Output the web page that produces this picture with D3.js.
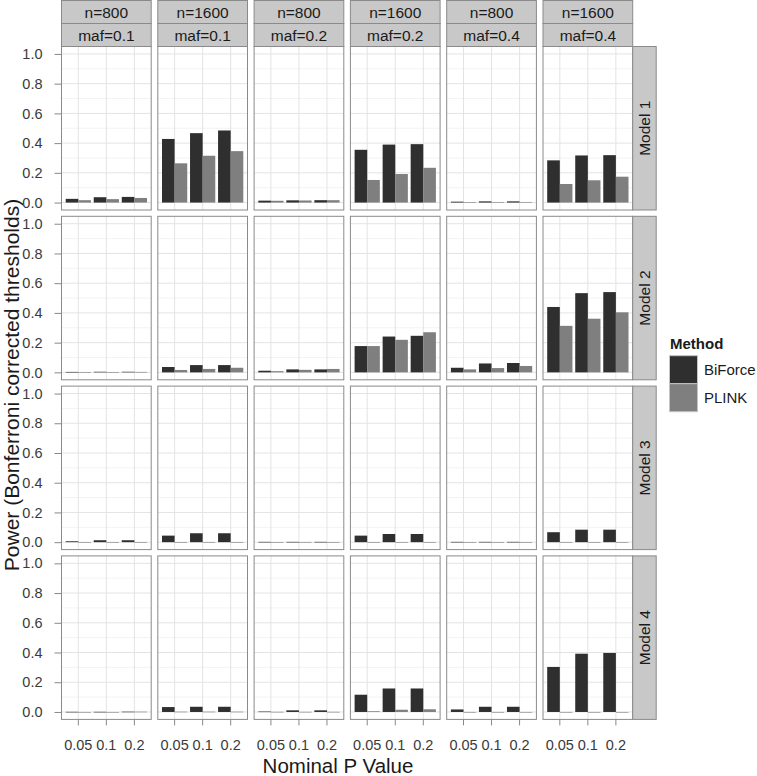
<!DOCTYPE html>
<html><head><meta charset="utf-8">
<script src="https://cdn.jsdelivr.net/npm/d3@7"></script>
<style>body{margin:0;background:#fff}svg{display:block;font-family:"Liberation Sans",Arial,sans-serif}</style>
</head><body><svg id="chart" width="757" height="776"></svg>
<script>
const pValues = ["0.05", "0.1", "0.2"];
const sampleSizes = ["n=800", "n=1600", "n=800", "n=1600", "n=800", "n=1600"];
const mafLabels = ["maf=0.1", "maf=0.1", "maf=0.2", "maf=0.2", "maf=0.4", "maf=0.4"];
const models = ["Model 1", "Model 2", "Model 3", "Model 4"];
const methods = ["BiForce", "PLINK"];
const yTicks = [0, 0.2, 0.4, 0.6, 0.8, 1.0];
const yMinor = [0.1, 0.3, 0.5, 0.7, 0.9];

// each array: 6 panels (columns) x 3 nominal p values
const biforceModel1 = [[0.025,0.036,0.038],[0.428,0.467,0.485],[0.013,0.015,0.016],[0.355,0.390,0.393],[0.006,0.008,0.008],[0.284,0.317,0.319]];
const plinkModel1   = [[0.016,0.023,0.031],[0.264,0.315,0.346],[0.012,0.014,0.016],[0.152,0.192,0.234],[0.003,0.004,0.004],[0.125,0.150,0.174]];
const biforceModel2 = [[0.003,0.004,0.004],[0.036,0.049,0.049],[0.011,0.020,0.020],[0.177,0.241,0.246],[0.031,0.060,0.063],[0.440,0.533,0.540]];
const plinkModel2   = [[0.002,0.002,0.003],[0.016,0.023,0.031],[0.008,0.017,0.023],[0.177,0.219,0.270],[0.020,0.029,0.043],[0.313,0.361,0.404]];
const biforceModel3 = [[0.006,0.013,0.013],[0.044,0.060,0.060],[0.002,0.002,0.002],[0.044,0.055,0.055],[0.002,0.002,0.002],[0.067,0.084,0.084]];
const plinkModel3   = [[0,0,0],[0.001,0.001,0.001],[0,0,0],[0,0,0],[0,0,0],[0,0,0]];
const biforceModel4 = [[0.001,0.001,0.002],[0.033,0.035,0.035],[0.003,0.011,0.011],[0.116,0.158,0.158],[0.017,0.035,0.035],[0.303,0.392,0.397]];
const plinkModel4   = [[0,0,0.002],[0.002,0.002,0.002],[0.001,0.001,0.001],[0.005,0.015,0.018],[0,0,0],[0,0,0]];

const biforceByModel = [biforceModel1, biforceModel2, biforceModel3, biforceModel4];
const plinkByModel = [plinkModel1, plinkModel2, plinkModel3, plinkModel4];

const colors = {BiForce: "#2f2f2f", PLINK: "#7f7f7f"};
const svg = d3.select("#chart");
svg.append("rect").attr("width", 757).attr("height", 776).attr("fill", "#fff");

const colLeft = 61.5, colStep = 96.3, panelW = 89.7;
const rowTop = 46.5, rowStep = 169.8, panelH = 163.5;
const stripFill = "#c8c8c8", borderCol = "#8a8a8a";

models.forEach((model, r) => {
  const top = rowTop + r * rowStep;
  const y = d3.scaleLinear().domain([-0.05, 1.05]).range([top + panelH, top]);
  sampleSizes.forEach((ss, c) => {
    const left = colLeft + c * colStep;
    const x = d3.scaleBand().domain(pValues).range([left, left + panelW]).paddingInner(0).paddingOuter(0.1);
    const step = x.step();
    const sub = d3.scaleBand().domain(methods).range([step * 0.05, step * 0.95]).padding(0);
    const g = svg.append("g");
    g.append("rect").attr("x", left).attr("y", top).attr("width", panelW).attr("height", panelH).attr("fill", "#fff");
    // grid
    g.selectAll(".minor").data(yMinor).join("line")
      .attr("x1", left).attr("x2", left + panelW).attr("y1", d => y(d)).attr("y2", d => y(d))
      .attr("stroke", "#f3f3f3").attr("stroke-width", 1);
    g.selectAll(".major").data(yTicks).join("line")
      .attr("x1", left).attr("x2", left + panelW).attr("y1", d => y(d)).attr("y2", d => y(d))
      .attr("stroke", "#e3e3e3").attr("stroke-width", 1);
    g.selectAll(".vmajor").data(pValues).join("line")
      .attr("x1", d => x(d) + step / 2).attr("x2", d => x(d) + step / 2).attr("y1", top).attr("y2", top + panelH)
      .attr("stroke", "#e3e3e3").attr("stroke-width", 1);
    // bars
    const data = [];
    pValues.forEach((p, i) => {
      data.push({p, m: "BiForce", v: biforceByModel[r][c][i]});
      data.push({p, m: "PLINK", v: plinkByModel[r][c][i]});
    });
    g.selectAll(".bar").data(data).join("rect")
      .attr("x", d => x(d.p) + sub(d.m))
      .attr("width", sub.bandwidth())
      .attr("y", d => y(d.v))
      .attr("height", d => Math.max(0.6, y(0) - y(d.v)))
      .attr("fill", d => colors[d.m]);
    g.append("rect").attr("x", left).attr("y", top).attr("width", panelW).attr("height", panelH)
      .attr("fill", "none").attr("stroke", borderCol).attr("stroke-width", 1);

    // top strips
    if (r === 0) {
      [[ss, 0.5], [mafLabels[c], 23.5]].forEach(([lab, sy]) => {
        svg.append("rect").attr("x", left).attr("y", sy).attr("width", panelW).attr("height", 23)
          .attr("fill", stripFill).attr("stroke", borderCol).attr("stroke-width", 1);
        svg.append("text").attr("x", left + panelW / 2).attr("y", sy + 17.5)
          .attr("text-anchor", "middle").attr("font-size", 15.5).attr("fill", "#1a1a1a").text(lab);
      });
    }
    // x axis
    if (r === models.length - 1) {
      const ax = svg.append("g").attr("transform", `translate(0,${top + panelH})`)
        .call(d3.axisBottom(x).tickSize(6).tickPadding(0));
      ax.select(".domain").remove();
      ax.selectAll(".tick line").attr("stroke", "#888");
      ax.selectAll(".tick text").attr("font-size", 14.5).attr("fill", "#3a3a3a")
        .attr("font-family", "Liberation Sans, Arial, sans-serif").attr("dy", null).attr("y", 30.5);
    }
  });
  // right strip
  const sx = colLeft + 5 * colStep + panelW;
  svg.append("rect").attr("x", sx).attr("y", top).attr("width", 23.5).attr("height", panelH)
    .attr("fill", stripFill).attr("stroke", borderCol).attr("stroke-width", 1);
  svg.append("text").attr("transform", `translate(${sx + 12},${top + panelH / 2}) rotate(-90)`)
    .attr("text-anchor", "middle").attr("dominant-baseline", "central")
    .attr("font-size", 15.5).attr("fill", "#1a1a1a").text(model);
  // y axis
  const ay = svg.append("g").attr("transform", `translate(${colLeft},0)`)
    .call(d3.axisLeft(y).tickValues(yTicks).tickFormat(d3.format(".1f")).tickSize(7).tickPadding(12));
  ay.select(".domain").remove();
  ay.selectAll(".tick line").attr("stroke", "#888");
  ay.selectAll(".tick text").attr("font-size", 14.5).attr("fill", "#3a3a3a")
    .attr("font-family", "Liberation Sans, Arial, sans-serif");
});

// axis titles
svg.append("text").attr("x", 338).attr("y", 773).attr("text-anchor", "middle")
  .attr("font-size", 20.5).attr("fill", "#1a1a1a").text("Nominal P Value");
svg.append("text").attr("transform", `translate(18.5,385) rotate(-90)`).attr("text-anchor", "middle")
  .attr("font-size", 21).attr("fill", "#1a1a1a").text("Power (Bonferroni corrected thresholds)");

// legend
const lg = svg.append("g");
lg.append("text").attr("x", 670).attr("y", 348.5).attr("font-size", 15).attr("font-weight", "bold")
  .attr("fill", "#1a1a1a").text("Method");
methods.forEach((m, i) => {
  const ky = 355.7 + i * 28;
  lg.append("rect").attr("x", 669.5).attr("y", ky).attr("width", 28).attr("height", 28)
    .attr("fill", colors[m]).attr("stroke", "#c4c4c4").attr("stroke-width", 1);
  lg.append("text").attr("x", 704).attr("y", ky + 19.5).attr("font-size", 15)
    .attr("fill", "#1a1a1a").text(m);
});
</script></body></html>
